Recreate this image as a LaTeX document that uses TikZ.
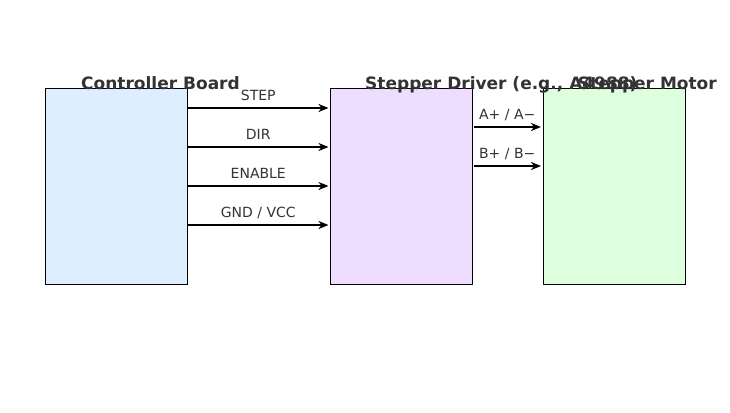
\documentclass[tikz,border=0pt]{standalone}
\usepackage{fontspec}
\setmainfont{DejaVu Sans}
\usetikzlibrary{positioning, arrows.meta, calc}
\definecolor{ctrlblue}{HTML}{DDEEFF}
\definecolor{drvlilac}{HTML}{EEDDFF}
\definecolor{motgreen}{HTML}{DDFFDD}
\definecolor{inkgray}{HTML}{333333}
\tikzset{
	x=1pt, y=-1pt, % work in picture pixels
	block/.style={draw=black, line width=1pt, inner sep=0pt, outer sep=0pt,
		minimum width=142pt, minimum height=196pt, anchor=north west}, % the three boards
	heading/.style={text=inkgray, font=\bfseries\fontsize{17}{20}\selectfont, inner sep=0pt}, % board names
	sig/.style={-{Stealth[length=10pt,width=8pt,inset=3pt]}, line width=1.8pt}, % signal arrows
	siglabel/.style={text=inkgray, font=\fontsize{14}{16}\selectfont, inner sep=0pt, anchor=base, yshift=7.5pt},
}

\begin{document}
\begin{tikzpicture}
	\useasboundingbox (0,0) rectangle (730,412);
	
	% boards
	\node[block, fill=ctrlblue] (ctrl) at (45,88) {};
	\node[block, fill=drvlilac] (drv) at (330,88) {};
	\node[block, fill=motgreen] (mot) at (543,88) {};
	
	% headings
	\node[heading, anchor=base west] (ctrltitle) at (81,89) {Controller Board};
	\node[heading, anchor=base west] (drvtitle) at (365,89) {Stepper Driver (e.g., A4988)};
	\node[heading, anchor=base east] (mottitle) at (717,89) {Stepper Motor};
	
	% controller -> driver
	\foreach \dy/\lab in {20/STEP, 59/DIR, 98/ENABLE, 137/{GND / VCC}}
		\draw[sig] ([xshift=1pt, yshift=-\dy pt]ctrl.north east) -- ([xshift=-1.5pt, yshift=-\dy pt]drv.north west)
			node[siglabel, midway] {\lab};
	
	% driver -> motor
	\foreach \dy/\lab in {39/{A+ / A−}, 78/{B+ / B−}}
		\draw[sig] ([xshift=1.5pt, yshift=-\dy pt]drv.north east) -- ([xshift=-2pt, yshift=-\dy pt]mot.north west)
			node[siglabel, midway] {\lab};
	
\end{tikzpicture}
\end{document}
